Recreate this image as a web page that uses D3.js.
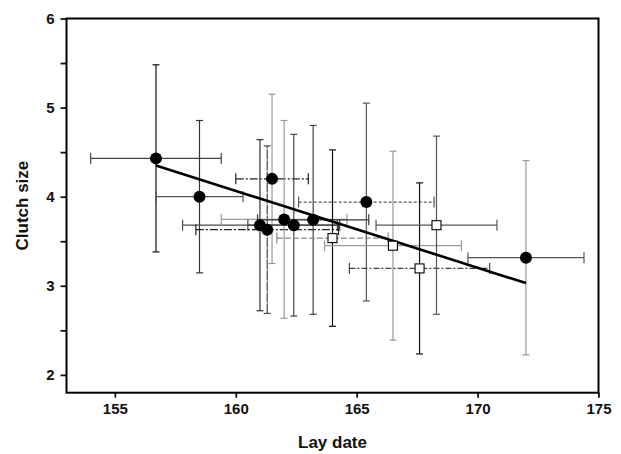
<!DOCTYPE html>
<html>
<head>
<meta charset="utf-8">
<script src="https://cdn.jsdelivr.net/npm/d3@7"></script>
<style>
  html, body { margin: 0; padding: 0; background: #fff; }
  svg { display: block; }
  text { font-family: "Liberation Sans", Arial, sans-serif; font-weight: bold; fill: #111; }
</style>
</head>
<body>
<svg id="chart" width="621" height="454"></svg>
<script>
// Mean lay date (x) and mean clutch size (y) with their standard deviations
const layDate   = [156.7, 158.5, 161.5, 161.0, 161.3, 162.0, 162.4, 163.2, 165.4, 172.0, 164.0, 166.5, 167.6, 168.3];
const clutch    = [4.43, 4.00, 4.20, 3.68, 3.63, 3.745, 3.68, 3.74, 3.94, 3.315, 3.535, 3.45, 3.195, 3.68];
const dateSD    = [2.7, 1.8, 1.5, 3.2, 2.95, 2.6, 1.9, 2.3, 2.8, 2.4, 2.3, 2.83, 2.9, 2.5];
const clutchSD  = [1.05, 0.855, 0.95, 0.96, 0.94, 1.11, 1.02, 1.06, 1.11, 1.09, 0.99, 1.06, 0.96, 1.0];
const groupType = ["filled", "filled", "filled", "filled", "filled", "filled", "filled", "filled", "filled", "filled",
                   "open", "open", "open", "open"];

// Fitted regression line endpoints
const fitDate   = [156.7, 172.0];
const fitClutch = [4.35, 3.03];

// Axis ticks
const xTicks = [155, 160, 165, 170, 175];
const yTicks = [2, 2.5, 3, 3.5, 4, 4.5, 5, 5.5, 6];

// Per-point stroke styles of the error bars: [vertical colour, vertical dash, horizontal colour, horizontal dash]
const barStyles = [
  ["#111", null, "#444", null],
  ["#333", null, "#555", null],
  ["#9a9a9a", null, "#222", "8,2,2,2"],
  ["#333", null, "#4a4a4a", null],
  ["#444", "10,1", "#222", "8,2,2,2"],
  ["#999", null, "#999", null],
  ["#444", null, "#444", null],
  ["#444", null, "#333", null],
  ["#555", null, "#555", "3,2"],
  ["#999", null, "#555", null],
  ["#111", null, "#888", "6,2"],
  ["#9a9a9a", null, "#9a9a9a", null],
  ["#111", null, "#444", "6,2,2,2"],
  ["#555", null, "#555", null]
];

const svg = d3.select("#chart");
const plotLeft = 66.5, plotRight = 598.5, plotTop = 18.5, plotBottom = 392.7;

const x = d3.scaleLinear().domain([153, 175]).range([plotLeft, plotRight]);
const y = d3.scaleLinear().domain([1.8, 6]).range([plotBottom, plotTop]);

// Axes
const xAxis = d3.axisBottom(x).tickValues(xTicks).tickSize(5).tickPadding(6)
  .tickFormat(d3.format("d"));
const yAxis = d3.axisLeft(y).tickValues(yTicks).tickSize(6).tickPadding(6)
  .tickFormat(d => Number.isInteger(d) ? d : "");

const gx = svg.append("g").attr("transform", `translate(0,${plotBottom})`).call(xAxis);
const gy = svg.append("g").attr("transform", `translate(${plotLeft},0)`).call(yAxis);
[gx, gy].forEach(g => {
  g.select(".domain").remove();
  g.selectAll(".tick line").attr("stroke", "#111").attr("stroke-width", 1.8);
  g.selectAll(".tick text").style("font-size", "15px").attr("fill", "#111");
});

// Error bars
const bars = svg.append("g");
layDate.forEach((d, i) => {
  const st = barStyles[i];
  const cx = x(d), cy = y(clutch[i]);
  const y0 = y(clutch[i] - clutchSD[i]), y1 = y(clutch[i] + clutchSD[i]);
  const x0 = x(d - dateSD[i]), x1 = x(d + dateSD[i]);
  const v = bars.append("g").attr("stroke", st[0]).attr("stroke-width", 1.2);
  v.append("line").attr("x1", cx).attr("x2", cx).attr("y1", y0).attr("y2", y1)
    .attr("stroke-dasharray", st[1]);
  v.append("line").attr("x1", cx - 3.5).attr("x2", cx + 3.5).attr("y1", y0).attr("y2", y0);
  v.append("line").attr("x1", cx - 3.5).attr("x2", cx + 3.5).attr("y1", y1).attr("y2", y1);
  const h = bars.append("g").attr("stroke", st[2]).attr("stroke-width", 1.2);
  h.append("line").attr("x1", x0).attr("x2", x1).attr("y1", cy).attr("y2", cy)
    .attr("stroke-dasharray", st[3]);
  h.append("line").attr("x1", x0).attr("x2", x0).attr("y1", cy - 5.5).attr("y2", cy + 5.5);
  h.append("line").attr("x1", x1).attr("x2", x1).attr("y1", cy - 5.5).attr("y2", cy + 5.5);
});

// Regression line
svg.append("path")
  .datum(fitDate.map((d, i) => [d, fitClutch[i]]))
  .attr("d", d3.line().x(d => x(d[0])).y(d => y(d[1])))
  .attr("fill", "none").attr("stroke", "#000").attr("stroke-width", 2.6);

// Markers
const marks = svg.append("g");
layDate.forEach((d, i) => {
  const cx = x(d), cy = y(clutch[i]);
  if (groupType[i] === "filled") {
    marks.append("circle").attr("cx", cx).attr("cy", cy).attr("r", 6).attr("fill", "#000");
  } else {
    marks.append("rect").attr("x", cx - 4.5).attr("y", cy - 4.5).attr("width", 9).attr("height", 9)
      .attr("fill", "#fff").attr("stroke", "#000").attr("stroke-width", 1.1);
  }
});

// Frame
svg.append("rect").attr("x", plotLeft).attr("y", plotTop)
  .attr("width", plotRight - plotLeft).attr("height", plotBottom - plotTop)
  .attr("fill", "none").attr("stroke", "#000").attr("stroke-width", 2);

// Axis titles
svg.append("text").attr("x", (plotLeft + plotRight) / 2).attr("y", 448).attr("text-anchor", "middle")
  .style("font-size", "17px").text("Lay date");
svg.append("text").attr("transform", `translate(28,${(plotTop + plotBottom) / 2}) rotate(-90)`)
  .attr("text-anchor", "middle").style("font-size", "17px").text("Clutch size");
</script>
</body>
</html>
